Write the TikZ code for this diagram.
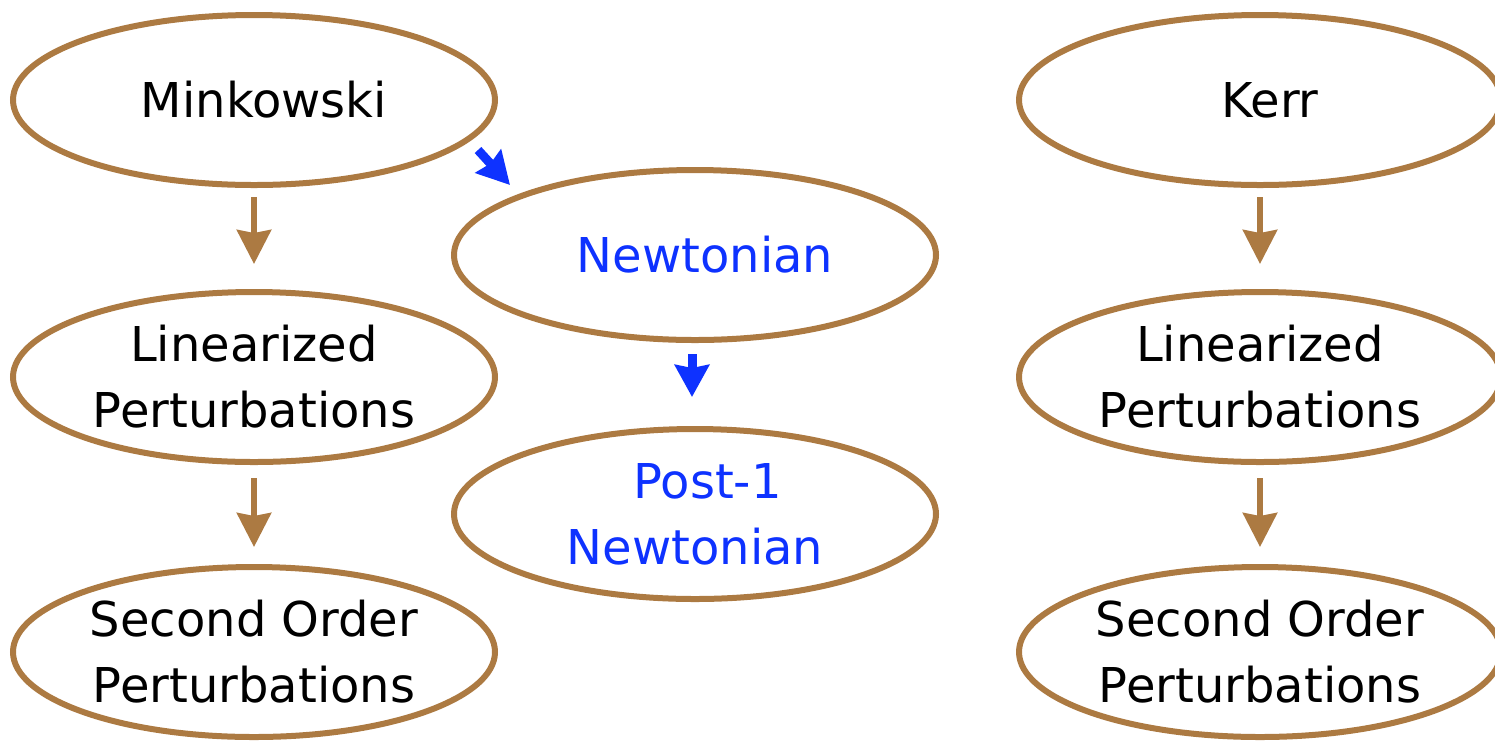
\documentclass[tikz,border=0pt]{standalone}
\usepackage{fontspec}
\setmainfont{DejaVu Sans}
\usetikzlibrary{shapes.geometric,arrows.meta}
\definecolor{brownline}{RGB}{172,122,66}
\definecolor{newtblue}{RGB}{14,50,255}
\tikzset{
  stage/.style={ellipse, draw=brownline, line width=6pt, minimum width=482pt,
    minimum height=170pt, inner sep=0pt, align=center,
    font=\fontsize{48}{66}\selectfont},
  bluetext/.style={text=newtblue},
  brownarrow/.style={draw=brownline, line width=6pt,
    -{Stealth[length=34pt,width=34pt,inset=3pt]}},
  bluearrow/.style={draw=newtblue, line width=9pt,
    -{Stealth[length=32pt,width=34pt,inset=3pt]}}
}
\begin{document}
\begin{tikzpicture}[x=1pt,y=-1pt]
\clip (0,0) rectangle (1495,740);
% left column
\node[stage] (mink) at (254,100) {\hspace{20pt}Minkowski};
\node[stage] (linL) at (254,377) {Linearized\\Perturbations};
\node[stage] (secL) at (254,652) {Second Order\\Perturbations};
% middle column
\node[stage, bluetext] (newt) at (695,255) {\hspace{20pt}Newtonian};
\node[stage, bluetext] (post) at (695,514) {\hspace{25pt}Post-1\\Newtonian};
% right column
\node[stage] (kerr) at (1260,100) {\hspace{20pt}Kerr};
\node[stage] (linR) at (1260,377) {Linearized\\Perturbations};
\node[stage] (secR) at (1260,652) {Second Order\\Perturbations};
% connectors
\draw[brownarrow] ([yshift=-9pt]mink.south) -- ([yshift=25pt]linL.north);
\draw[brownarrow] ([yshift=-13pt]linL.south) -- ([yshift=17pt]secL.north);
\draw[brownarrow] ([yshift=-9pt]kerr.south) -- ([yshift=25pt]linR.north);
\draw[brownarrow] ([yshift=-13pt]linR.south) -- ([yshift=17pt]secR.north);
\draw[bluearrow] ([xshift=224pt,yshift=-50pt]mink.center) -- ([xshift=-185pt,yshift=70pt]newt.center);
\draw[bluearrow] ([xshift=-3pt,yshift=-11pt]newt.south) -- ([xshift=-3pt,yshift=29pt]post.north);
\end{tikzpicture}
\end{document}
